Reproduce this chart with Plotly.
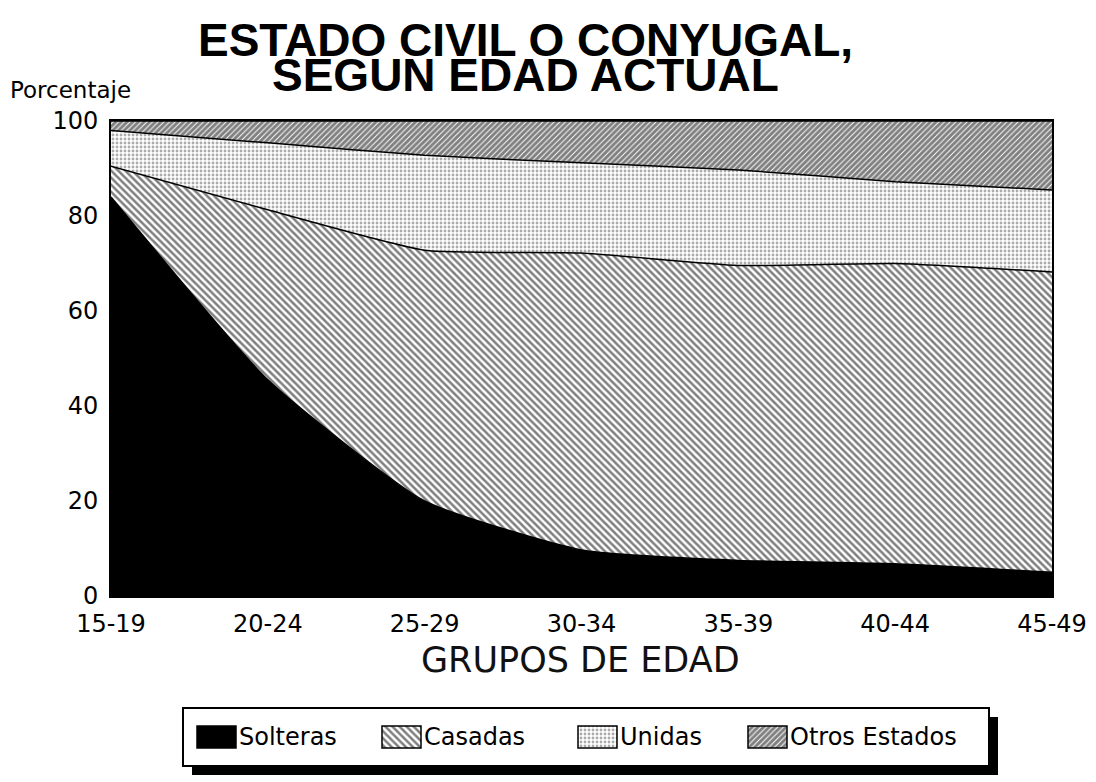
import plotly.graph_objects as go

# datos (porcentajes por grupo de edad)
GRUPOS = ["15-19", "20-24", "25-29", "30-34", "35-39", "40-44", "45-49"]
SOLTERAS = [84.0, 45.5, 20.0, 9.7, 7.5, 6.8, 5.0]
CASADAS = [6.5, 35.8, 52.8, 62.5, 62.1, 63.2, 63.2]
UNIDAS = [7.5, 14.1, 20.0, 19.0, 20.1, 17.2, 17.3]
OTROS = [2.0, 4.6, 7.2, 8.8, 10.3, 12.8, 14.5]
SERIES = ["Solteras", "Casadas", "Unidas", "Otros Estados"]
Y_TICKS = [0, 20, 40, 60, 80, 100]

# la pagina deja 8 px de margen alrededor de la figura
PAGE_OFF = 8
W, H = 1096 - PAGE_OFF, 782 - PAGE_OFF
FONT = "DejaVu Sans"


def fx(px):
    return (px - PAGE_OFF) / W


def fy(py):
    return 1 - (py - PAGE_OFF) / H


FILLS = {
    "Solteras": None,
    "Casadas": dict(shape="\\", size=5, solidity=0.5, fgcolor="black", bgcolor="white"),
    "Unidas": dict(shape=".", size=4, solidity=0.4, fgcolor="#5a5a5a", bgcolor="white"),
    "Otros Estados": dict(shape="/", size=4, solidity=0.76, fgcolor="black", bgcolor="white"),
}

fig = go.Figure()

for name, vals in zip(SERIES, [SOLTERAS, CASADAS, UNIDAS, OTROS]):
    kw = {}
    if FILLS[name] is None:
        kw["fillcolor"] = "black"
    else:
        kw["fillpattern"] = FILLS[name]
        kw["fillcolor"] = "white"
    fig.add_trace(go.Scatter(
        x=GRUPOS, y=vals,
        name=name,
        mode="lines",
        stackgroup="one",
        line=dict(color="black", width=1.5, shape="spline", smoothing=0.5),
        showlegend=False,
        **kw,
    ))

# leyenda dibujada en un eje auxiliar (muestras grandes con trama)
SLOTS = [14, 199, 395, 565]
for name, base in zip(SERIES, SLOTS):
    pat = FILLS[name]
    fig.add_trace(go.Bar(
        x=[39], y=[0], base=[base],
        orientation="h",
        width=0.76,
        marker=dict(
            color="black" if pat is None else "white",
            line=dict(color="black", width=1.5),
            pattern=pat,
        ),
        text=[name],
        textposition="outside",
        constraintext="none",
        cliponaxis=False,
        textfont=dict(family=FONT, size=24, color="black"),
        xaxis="x2", yaxis="y2",
        showlegend=False, hoverinfo="skip",
    ))

fig.update_layout(
    width=W, height=H,
    autosize=False,
    margin=dict(l=0, r=0, t=0, b=0, autoexpand=False),
    paper_bgcolor="white",
    plot_bgcolor="white",
    font=dict(family=FONT, color="black"),
    showlegend=False,
    barmode="overlay",
    xaxis=dict(
        domain=[fx(111), fx(1052)],
        type="category",
        range=[0, 6],
        showline=True, mirror=True, linecolor="black", linewidth=2,
        showgrid=False, zeroline=False, ticks="",
        tickfont=dict(family=FONT, size=24, color="black"),
        ticklabelstandoff=5,
        automargin=False,
    ),
    yaxis=dict(
        domain=[fy(596), fy(121)],
        range=[0, 100],
        tickvals=Y_TICKS,
        showline=True, mirror=True, linecolor="black", linewidth=2,
        showgrid=False, zeroline=False, ticks="",
        tickfont=dict(family=FONT, size=24, color="black"),
        ticklabelstandoff=6,
        automargin=False,
    ),
    xaxis2=dict(domain=[fx(183), fx(989)], range=[0, 806], visible=False,
                fixedrange=True, automargin=False),
    yaxis2=dict(domain=[fy(766), fy(708)], range=[-1, 1], visible=False,
                fixedrange=True, automargin=False),
    shapes=[
        dict(type="rect", xref="paper", yref="paper", layer="below",
             x0=fx(192), x1=fx(998), y0=fy(775), y1=fy(717),
             fillcolor="black", line=dict(width=0)),
        dict(type="rect", xref="paper", yref="paper", layer="below",
             x0=fx(183), x1=fx(989), y0=fy(766), y1=fy(708),
             fillcolor="white", line=dict(color="black", width=2)),
    ],
    annotations=[
        dict(text="<b>ESTADO CIVIL O CONYUGAL,</b>", x=fx(525), y=fy(40),
             xref="paper", yref="paper", showarrow=False,
             xanchor="center", yanchor="middle",
             font=dict(family="Liberation Sans", size=46, color="black")),
        dict(text="<b>SEGUN EDAD ACTUAL</b>", x=fx(525), y=fy(75),
             xref="paper", yref="paper", showarrow=False,
             xanchor="center", yanchor="middle",
             font=dict(family="Liberation Sans", size=46, color="black")),
        dict(text="Porcentaje", x=fx(8), y=fy(90),
             xref="paper", yref="paper", showarrow=False,
             xanchor="left", yanchor="middle",
             font=dict(family=FONT, size=23, color="black")),
        dict(text="GRUPOS DE EDAD", x=fx(580), y=fy(660),
             xref="paper", yref="paper", showarrow=False,
             xanchor="center", yanchor="middle",
             font=dict(family=FONT, size=35, color="#111111")),
    ],
)

fig.write_html("out.html")
